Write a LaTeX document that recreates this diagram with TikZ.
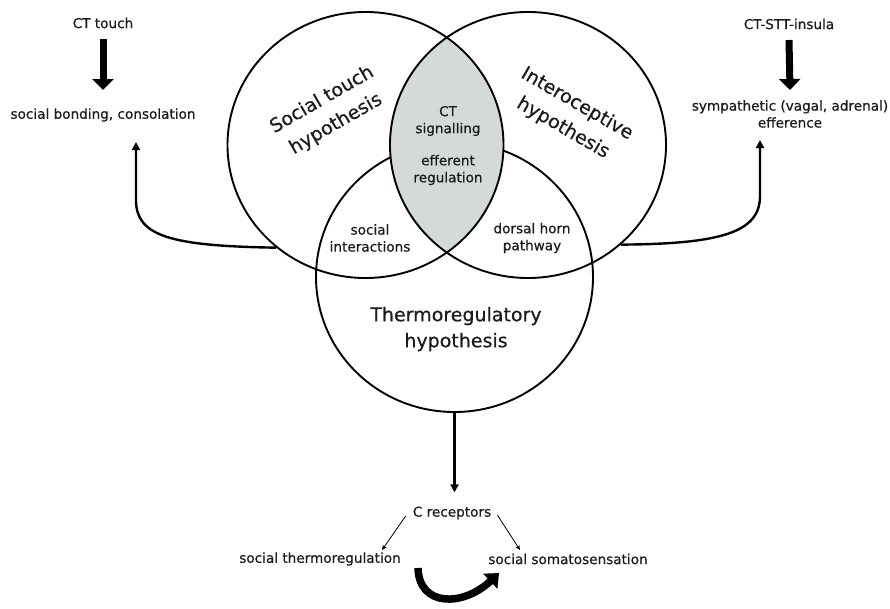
\documentclass[tikz,border=0pt]{standalone}
\usepackage{fontspec}
\setmainfont{DejaVu Sans}
\newfontfamily\heavy{DejaVu Sans}[FakeBold=0.6]
\usetikzlibrary{arrows.meta,shapes.geometric,calc}
\definecolor{lensgray}{RGB}{212,218,218}
\definecolor{ink}{RGB}{28,28,28}
\begin{document}
\begin{tikzpicture}[x=1pt,y=-1pt,
  lbl/.style={font=\heavy\fontsize{13.6}{17}\selectfont, text=ink, align=center, inner sep=1pt},
  big/.style={font=\heavy\fontsize{19}{28}\selectfont, text=ink, align=center, inner sep=1pt},
  venn/.style={ellipse, minimum width=276pt, minimum height=266pt, inner sep=0pt, line width=1.9pt},
  blockarrow/.style={line width=7pt, -{Triangle[width=21pt,length=11pt]}},
  curvearrow/.style={line width=2.4pt, -{Triangle[width=8pt,length=8pt]}},
  thinarrow/.style={line width=0.8pt, -{Stealth[width=4.5pt,length=5pt]}},
  cyclearrow/.style={line width=7.5pt, -{Triangle[width=20pt,length=12pt]}},
]
\useasboundingbox (0,0) rectangle (890,608);
\clip (0,0) rectangle (890,608);

% Venn circles
\node[venn, draw, minimum width=277pt, minimum height=270pt] (B) at (454.5,277) {};
\begin{scope}
  \clip (365.5,145) ellipse [x radius=138pt, y radius=133pt];
  \fill[lensgray] (528,145) ellipse [x radius=138pt, y radius=133pt];
\end{scope}
\node[venn, draw] (L) at (365.5,145) {};
\node[venn, draw] (R) at (528,145) {};

% Venn labels
\node[big, rotate=30] (st) at (329,112) {Social touch\\hypothesis};
\node[big, rotate=-30] (ih) at (570,116) {Interoceptive\\hypothesis};
\node[big, font=\heavy\fontsize{19}{26}\selectfont] (th) at (456,329) {Thermoregulatory\\hypothesis};
\node[lbl] (cts) at (448,121) {CT\\signalling};
\node[lbl] (eff) at (448,170) {efferent\\regulation};
\node[lbl] (si) at (370,238) {social\\interactions};
\node[lbl] (dh) at (532,238) {dorsal horn\\pathway};

% Side texts
\node[lbl] (ctt) at (103,23) {CT touch};
\node[lbl] (bond) at (103,115) {social bonding, consolation};
\node[lbl] (ins) at (789,24) {CT-STT-insula};
\node[lbl] (symp) at (790,114) {sympathetic (vagal, adrenal)\\efference};

% Bottom texts
\node[lbl] (crec) at (452,513) {C receptors};
\node[lbl] (sthermo) at (320,559) {social thermoregulation};
\node[lbl] (ssoma) at (568,559) {social somatosensation};

% Block arrows
\draw[blockarrow] ([yshift=-16pt]ctt.center) -- ([yshift=25pt]bond.center);
\draw[blockarrow] ([yshift=-16pt]ins.center) -- ([yshift=24pt]symp.center);

% Curved arrows from circles
\coordinate (bondIn) at (136,142);
\coordinate (sympIn) at (760,140);
\draw[curvearrow] (L.229) .. controls (170,246) and (136,236) .. (136,200) -- (bondIn);
\draw[curvearrow] (R.313) .. controls (722,244) and (760,232) .. (760,196) -- (sympIn);

% Down arrow to C receptors
\draw[curvearrow, shorten >=13pt] (B.south) -- (B.south |- crec.north);

% Thin arrows
\coordinate (stIn) at (382,550);
\coordinate (ssIn) at (520,550);
\draw[thinarrow] ([xshift=-6pt,yshift=-3pt]crec.west) -- (stIn);
\draw[thinarrow] ([xshift=5pt,yshift=-2pt]crec.east) -- (ssIn);

% Cycle arrow
\coordinate (cyA) at (418,568);
\coordinate (cyB) at (499,573);
\draw[cyclearrow] (cyA) .. controls (419,607) and (463,607) .. (cyB);
\end{tikzpicture}
\end{document}
